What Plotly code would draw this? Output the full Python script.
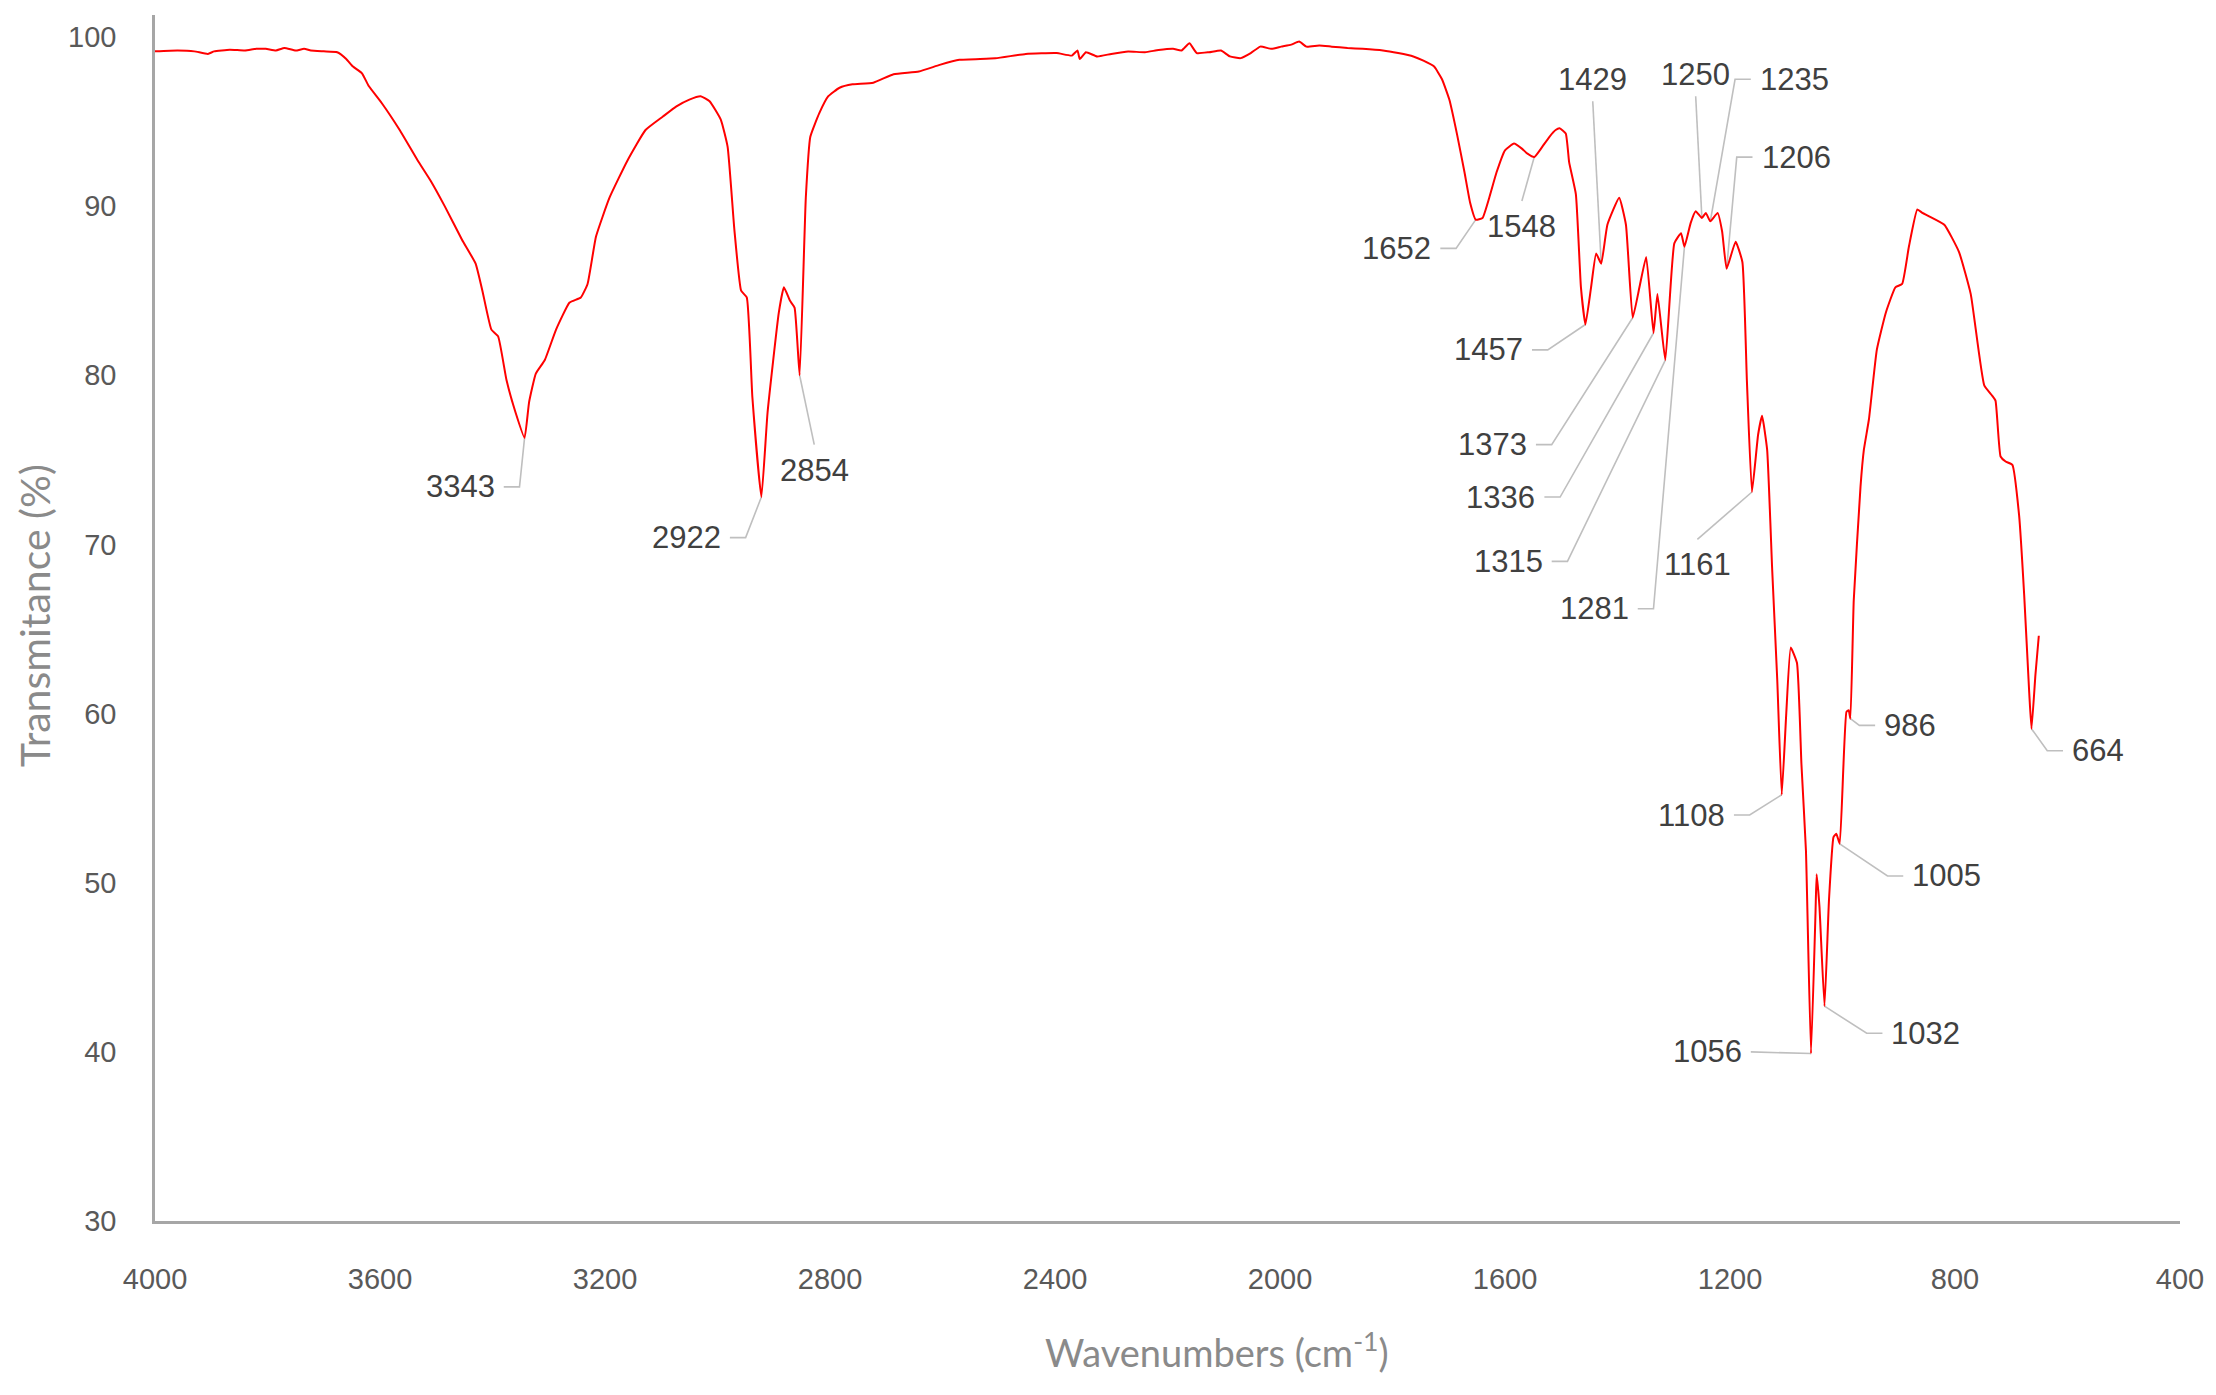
import plotly.graph_objects as go

# ---------------- data ----------------
wavenumber = [
    4000, 3960, 3930, 3906, 3895, 3867, 3840, 3820, 3803, 3785, 3770, 3750, 3735, 3723, 3700,
    3676, 3660, 3648, 3632, 3620, 3597, 3565, 3533, 3510, 3485, 3454, 3430, 3418, 3402, 3390,
    3375, 3359, 3343, 3335, 3323, 3307, 3287, 3263, 3243, 3231, 3216, 3192, 3160, 3128, 3097,
    3073, 3050, 3030, 3014, 2994, 2982, 2970, 2958, 2948, 2938, 2922, 2911, 2891, 2882, 2871,
    2863, 2854, 2843, 2835, 2819, 2803, 2783, 2760, 2723, 2687, 2642, 2605, 2570, 2506, 2452,
    2397, 2370, 2360, 2356, 2345, 2325, 2300, 2270, 2240, 2216, 2190, 2175, 2161, 2148, 2126,
    2105, 2089, 2070, 2052, 2035, 2015, 1998, 1980, 1966, 1953, 1930, 1908, 1880, 1853, 1817,
    1790, 1763, 1745, 1726, 1712, 1699, 1685, 1672, 1662, 1652, 1640, 1628, 1615, 1600, 1584,
    1570, 1560, 1548, 1536, 1521, 1510, 1503, 1492, 1486, 1474, 1465, 1457, 1447, 1438, 1429,
    1418, 1397, 1385, 1373, 1361, 1349, 1336, 1329, 1315, 1299, 1287, 1281, 1270, 1261, 1250,
    1243, 1235, 1222, 1214, 1206, 1190, 1178, 1170, 1161, 1150, 1143, 1134, 1125, 1116, 1108,
    1100, 1092, 1081, 1073, 1065, 1056, 1048, 1046, 1041, 1032, 1024, 1016, 1011, 1005, 993,
    989, 986, 980, 968, 962, 953, 939, 923, 906, 894, 882, 867, 858, 846, 819,
    793, 772, 748, 734, 728, 719, 710, 698, 686, 677, 668, 664, 657, 651,
]
transmittance = [
    99.15, 99.2, 99.15, 99.0, 99.15, 99.25, 99.2, 99.3, 99.3, 99.2, 99.35, 99.2, 99.3, 99.2, 99.15,
    99.1, 98.7, 98.25, 97.85, 97.1, 96.1, 94.5, 92.7, 91.5, 90.0, 88.0, 86.6, 85.0, 82.7, 82.3,
    79.7, 77.8, 76.3, 78.4, 80.1, 80.9, 82.7, 84.3, 84.6, 85.4, 88.2, 90.5, 92.7, 94.5, 95.3,
    95.9, 96.3, 96.5, 96.2, 95.1, 93.5, 88.6, 85.0, 84.6, 78.7, 72.8, 77.8, 83.7, 85.2, 84.4,
    84.0, 80.0, 90.5, 94.1, 95.5, 96.5, 97.0, 97.2, 97.3, 97.8, 97.96, 98.35, 98.65, 98.74, 99.0,
    99.05, 98.9, 99.2, 98.7, 99.1, 98.85, 99.0, 99.14, 99.1, 99.23, 99.3, 99.2, 99.63, 99.05, 99.1,
    99.2, 98.85, 98.75, 99.05, 99.43, 99.3, 99.43, 99.55, 99.73, 99.43, 99.5, 99.43, 99.35, 99.3, 99.2,
    99.05, 98.85, 98.6, 98.25, 97.5, 96.3, 94.2, 92.0, 90.2, 89.2, 89.3, 90.5, 92.0, 93.3, 93.7,
    93.4, 93.1, 92.9, 93.4, 94.1, 94.5, 94.6, 94.3, 92.6, 90.7, 85.2, 83.0, 85.2, 87.2, 86.6,
    88.9, 90.5, 88.9, 83.4, 85.2, 87.0, 82.5, 84.8, 80.9, 87.8, 88.4, 87.6, 89.0, 89.7, 89.3,
    89.6, 89.1, 89.6, 88.5, 86.3, 87.9, 86.7, 79.7, 73.1, 76.5, 77.6, 75.6, 68.5, 62.0, 55.2,
    60.0, 63.9, 63.0, 57.0, 51.9, 39.9, 48.2, 50.5, 48.6, 42.7, 49.0, 52.7, 52.9, 52.3, 60.1,
    60.2, 59.7, 66.7, 73.4, 75.6, 77.4, 81.5, 83.7, 85.2, 85.4, 87.6, 89.8, 89.6, 89.4, 88.9,
    87.3, 84.8, 79.4, 78.8, 78.5, 75.2, 74.9, 74.7, 71.7, 67.0, 61.2, 59.1, 62.3, 64.6,
]

peak_labels = [3343, 2922, 2854, 1652, 1548, 1429, 1457, 1373, 1336, 1315, 1281,
               1250, 1235, 1206, 1161, 1108, 1056, 1032, 1005, 986, 664]

x_ticks = [4000, 3600, 3200, 2800, 2400, 2000, 1600, 1200, 800, 400]
y_ticks = [30, 40, 50, 60, 70, 80, 90, 100]

# ---------------- label layout (where each data label sits) ----------------
label_x = [3380, 2978, 2828, 1715, 1570, 1444, 1552, 1545, 1530, 1517, 1364,
           1261, 1163, 1160, 1258, 1193, 1163, 929, 892, 942, 608]
label_y = [73.4, 70.4, 75.9, 87.5, 90.3, 96.2, 81.5, 75.9, 72.8, 69.0, 66.2,
           96.5, 97.5, 92.9, 70.3, 54.0, 40.0, 41.1, 50.4, 59.3, 57.8]
label_side = ["left", "left", "bottom", "left", "bottom", "top", "left", "left", "left", "left", "left",
              "top", "right", "right", "bottom", "left", "left", "right", "right", "right", "right"]

LINE_RED = "#ff0000"
AXIS_GREY = "#a6a6a6"
TICK_GREY = "#595959"
LABEL_GREY = "#404040"
LEADER_GREY = "#bfbfbf"
TITLE_GREY = "#8a8a8a"
ELBOW = 28

lookup = dict(zip(wavenumber, transmittance))

# leader lines
lx_all, ly_all = [], []
for pk, lx, ly, side in zip(peak_labels, label_x, label_y, label_side):
    px, py = pk, lookup[pk]
    if side == "left":
        pts = [(px, py), (lx - ELBOW, ly), (lx, ly)]
    elif side == "right":
        pts = [(px, py), (lx + ELBOW, ly), (lx, ly)]
    else:
        pts = [(px, py), (lx, ly)]
    for a, b in pts:
        lx_all.append(a)
        ly_all.append(b)
    lx_all.append(None)
    ly_all.append(None)

fig = go.Figure()
fig.add_trace(go.Scatter(x=lx_all, y=ly_all, mode="lines",
                         line=dict(color=LEADER_GREY, width=1.6),
                         hoverinfo="skip", showlegend=False))
fig.add_trace(go.Scatter(x=wavenumber, y=transmittance, mode="lines",
                         line=dict(color=LINE_RED, width=2, shape="spline", smoothing=0.4),
                         showlegend=False))

annotations = []
for pk, lx, ly, side in zip(peak_labels, label_x, label_y, label_side):
    a = dict(x=lx, y=ly, xref="x", yref="y", text=str(pk), showarrow=False,
             font=dict(family="Liberation Sans, Arial, sans-serif", size=31, color=LABEL_GREY))
    if side == "left":
        a.update(xanchor="right", yanchor="middle", xshift=-7)
    elif side == "right":
        a.update(xanchor="left", yanchor="middle", xshift=7)
    elif side == "top":
        a.update(xanchor="center", yanchor="bottom", yshift=2)
    else:
        a.update(xanchor="center", yanchor="top", yshift=-6)
    annotations.append(a)

annotations.append(dict(
    x=0.5244, y=-0.107, xref="paper", yref="paper", showarrow=False,
    text="Wavenumbers (cm<sup>-1</sup>)", xanchor="center", yanchor="middle",
    font=dict(family="Lato, Calibri, sans-serif", size=38, color=TITLE_GREY)))
annotations.append(dict(
    x=-0.0592, y=0.5017, xref="paper", yref="paper", showarrow=False, textangle=-90,
    text="Transmitance (%)", xanchor="center", yanchor="middle",
    font=dict(family="Lato, Calibri, sans-serif", size=41, color=TITLE_GREY)))

fig.update_layout(
    width=2216, height=1395,
    margin=dict(l=155, r=34, t=15, b=174),
    paper_bgcolor="white", plot_bgcolor="white",
    annotations=annotations,
    xaxis=dict(range=[4000, 400], tickvals=x_ticks, ticktext=[str(v) for v in x_ticks],
               showgrid=False, zeroline=False, showline=True, linecolor=AXIS_GREY, linewidth=2.5,
               ticks="", ticklabelstandoff=30,
               tickfont=dict(family="Liberation Sans, Arial, sans-serif", size=29, color=TICK_GREY)),
    yaxis=dict(range=[30, 101.3], tickvals=y_ticks, ticktext=[str(v) for v in y_ticks],
               showgrid=False, zeroline=False, showline=True, linecolor=AXIS_GREY, linewidth=2.5,
               ticks="", ticklabelstandoff=30,
               tickfont=dict(family="Liberation Sans, Arial, sans-serif", size=29, color=TICK_GREY)),
)

fig.write_html("out.html",
               config={"displayModeBar": False},
               post_script="document.body.style.margin='0';document.body.style.overflow='hidden';")
